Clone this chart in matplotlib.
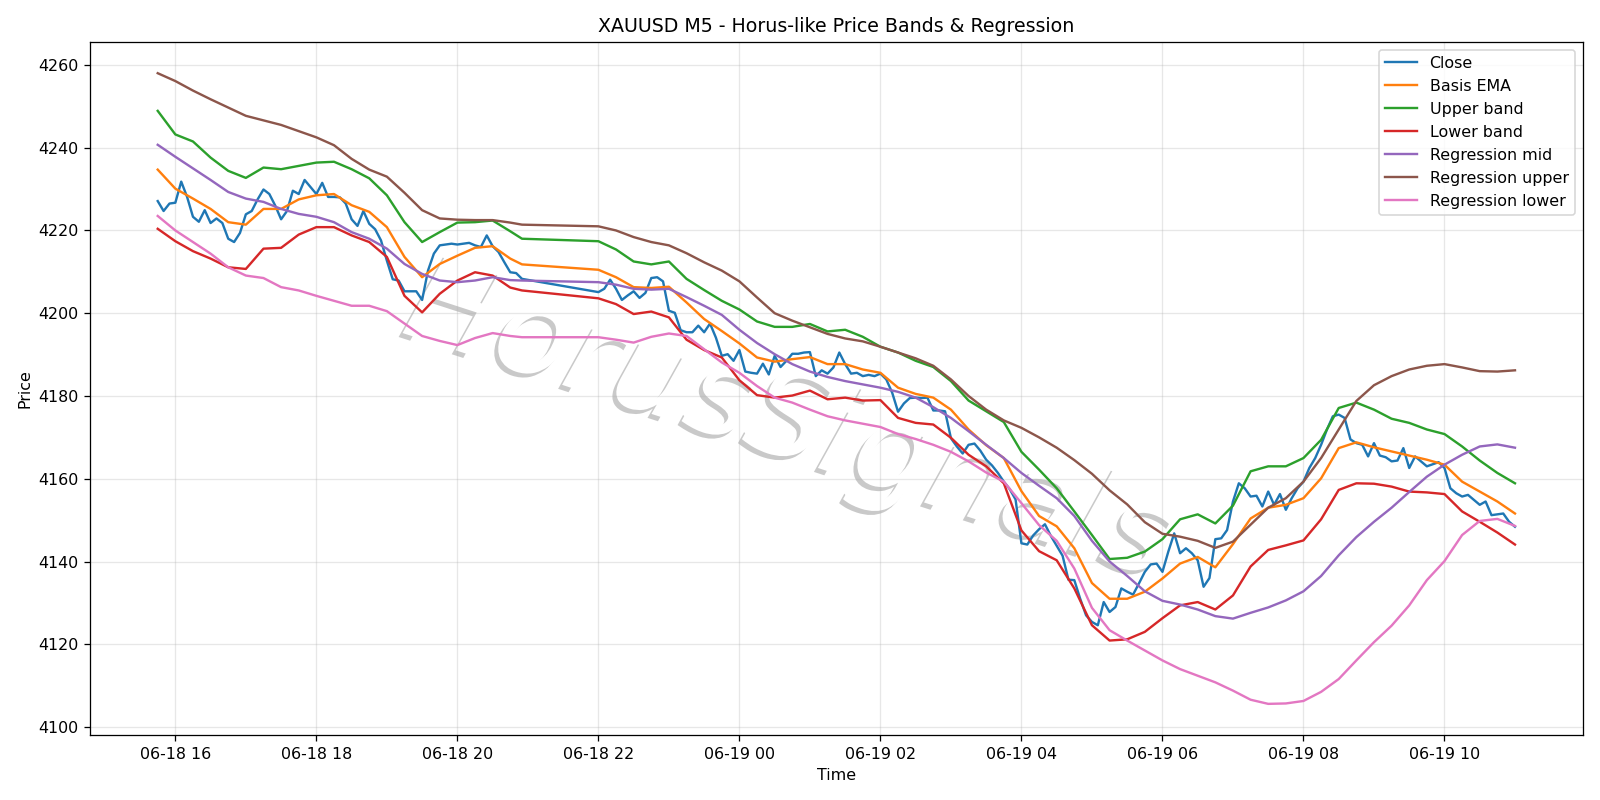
import pandas as pd
import matplotlib
matplotlib.use("Agg")
import matplotlib.pyplot as plt
import matplotlib.dates as mdates
import matplotlib.patheffects as pe

# M5 close prices (market break 20:55 -> 22:00)
close_pre = [
    4227.1, 4224.7, 4226.5, 4226.7, 4231.8, 4228.1, 4223.3, 4222.1, 4224.9, 4221.8,
    4222.9, 4221.8, 4218.0, 4217.2, 4219.4, 4223.9, 4224.7, 4227.5, 4229.9, 4228.8,
    4226.0, 4222.7, 4224.7, 4229.6, 4228.8, 4232.2, 4230.5, 4228.8, 4231.5, 4228.1,
    4228.1, 4228.0, 4226.5, 4222.7, 4221.1, 4224.7, 4221.6, 4220.3, 4217.6, 4212.7,
    4208.2, 4207.9, 4205.3, 4205.3, 4205.3, 4203.2, 4210.3, 4214.4, 4216.4, 4216.6,
    4216.8, 4216.6, 4216.8, 4217.0, 4216.4, 4216.0, 4218.8, 4216.2, 4214.8, 4212.3,
    4209.9, 4209.7, 4208.3,
]
close_post = [
    4205.1, 4205.9, 4208.1, 4205.9, 4203.2, 4204.3, 4205.3, 4203.7, 4204.9, 4208.5,
    4208.7, 4207.7, 4200.6, 4200.1, 4195.9, 4195.4, 4195.4, 4197.0, 4195.4, 4197.5,
    4194.1, 4189.7, 4190.1, 4188.5, 4191.1, 4185.9, 4185.6, 4185.4, 4187.8, 4185.2,
    4189.7, 4187.0, 4188.5, 4190.2, 4190.2, 4190.5, 4190.6, 4184.8, 4186.2, 4185.4,
    4186.9, 4190.5, 4187.7, 4185.4, 4185.6, 4184.8, 4185.1, 4184.8, 4185.4, 4184.0,
    4180.8, 4176.2, 4178.2, 4179.5, 4179.6, 4179.5, 4179.6, 4176.5, 4176.5, 4176.3,
    4169.8, 4167.8, 4166.1, 4168.2, 4168.5, 4166.8, 4164.6, 4163.2, 4161.4, 4159.3,
    4157.5, 4155.0, 4144.4, 4144.1, 4146.3, 4147.8, 4149.0, 4146.2, 4143.8, 4141.4,
    4135.6, 4135.5, 4131.0, 4127.0, 4125.4, 4124.6, 4130.2, 4127.8, 4129.0, 4133.5,
    4132.7, 4132.0, 4134.7, 4137.5, 4139.3, 4139.5, 4137.5, 4142.4, 4146.8, 4142.0,
    4143.2, 4142.0, 4140.3, 4133.9, 4136.0, 4145.4, 4145.6, 4147.6, 4154.5, 4158.9,
    4157.7, 4155.7, 4155.9, 4153.3, 4156.9, 4153.7, 4156.3, 4152.5, 4155.3, 4157.7,
    4159.3, 4162.6, 4165.0, 4168.2, 4171.9, 4175.1, 4175.5, 4174.7, 4169.5, 4168.6,
    4168.2, 4165.4, 4168.6, 4165.6, 4165.2, 4164.2, 4164.4, 4167.4, 4162.6, 4165.4,
    4164.2, 4163.0, 4163.5, 4164.0, 4162.6, 4157.7, 4156.5, 4155.7, 4156.1, 4154.9,
    4153.7, 4154.5, 4151.2, 4151.4, 4151.6, 4149.6, 4148.4,
]

# band / regression values, read every 15 minutes
ema_pre = [4234.7, 4230.1, 4227.7, 4225.2, 4222.0, 4221.4, 4225.2, 4225.2, 4227.5, 4228.5, 4228.8,
           4226.1, 4224.5, 4220.8, 4213.6, 4208.7, 4211.9, 4213.9, 4215.8, 4216.2, 4213.2, 4211.8]
ema_post = [4210.5, 4208.7, 4206.3, 4206.1, 4206.4, 4202.6, 4198.6, 4195.7, 4192.7, 4189.3,
            4188.3, 4188.9, 4189.4, 4187.7, 4187.7, 4186.4, 4185.6, 4182.0, 4180.5, 4179.6,
            4176.7, 4171.9, 4168.1, 4165.0, 4157.0, 4151.0, 4148.5, 4143.2, 4134.8, 4131.0,
            4131.0, 4132.7, 4135.9, 4139.5, 4141.1, 4138.6, 4144.2, 4150.4, 4153.0, 4153.7,
            4155.3, 4160.1, 4167.4, 4168.8, 4167.6, 4166.6, 4165.6, 4164.6, 4163.4, 4159.3,
            4156.9, 4154.5, 4151.6]

upper_pre = [4248.9, 4243.2, 4241.5, 4237.6, 4234.4, 4232.7, 4235.2, 4234.8, 4235.6, 4236.4, 4236.6,
             4234.8, 4232.6, 4228.5, 4222.0, 4217.2, 4219.6, 4221.9, 4222.0, 4222.4, 4219.8, 4218.0]
upper_post = [4217.4, 4215.4, 4212.5, 4211.8, 4212.5, 4208.3, 4205.6, 4203.0, 4200.9, 4198.0,
              4196.7, 4196.7, 4197.4, 4195.6, 4196.0, 4194.3, 4191.9, 4190.5, 4188.5, 4187.0,
              4183.6, 4178.9, 4176.3, 4173.7, 4166.5, 4162.2, 4157.7, 4152.1, 4146.4, 4140.6,
              4140.9, 4142.4, 4145.4, 4150.2, 4151.4, 4149.2, 4153.5, 4161.8, 4163.0, 4163.0,
              4165.0, 4169.4, 4177.1, 4178.4, 4176.7, 4174.5, 4173.5, 4171.9, 4170.8, 4167.8,
              4164.4, 4161.4, 4158.9]

lower_pre = [4220.4, 4217.4, 4215.0, 4213.2, 4211.1, 4210.7, 4215.6, 4215.8, 4219.0, 4220.8, 4220.8,
             4218.8, 4217.2, 4213.6, 4204.2, 4200.2, 4204.7, 4207.9, 4209.9, 4209.1, 4206.2, 4205.5]
lower_post = [4203.6, 4202.2, 4199.8, 4200.4, 4199.0, 4193.6, 4191.1, 4189.3, 4183.8, 4180.2,
              4179.6, 4180.1, 4181.3, 4179.2, 4179.6, 4178.9, 4179.0, 4174.7, 4173.5, 4173.1,
              4169.9, 4165.8, 4163.0, 4158.9, 4147.5, 4142.5, 4140.3, 4133.5, 4124.6, 4120.9,
              4121.2, 4123.0, 4126.3, 4129.4, 4130.2, 4128.4, 4131.8, 4138.8, 4142.8, 4143.9,
              4145.1, 4150.2, 4157.3, 4158.9, 4158.8, 4158.1, 4156.9, 4156.7, 4156.3, 4152.1,
              4149.6, 4147.0, 4144.1]

reg_mid_pre = [4240.7, 4237.8, 4235.0, 4232.2, 4229.3, 4227.7, 4226.9, 4225.2, 4224.0, 4223.3, 4222.0,
               4219.6, 4218.0, 4215.6, 4211.9, 4209.5, 4207.9, 4207.5, 4207.9, 4208.7, 4208.0, 4207.9]
reg_mid_post = [4207.5, 4206.9, 4205.9, 4205.7, 4205.9, 4203.9, 4201.8, 4199.6, 4196.0, 4192.8,
                4190.1, 4187.7, 4185.9, 4184.6, 4183.6, 4182.8, 4182.0, 4181.0, 4179.6, 4177.3,
                4174.7, 4171.5, 4168.2, 4165.0, 4161.4, 4158.3, 4155.3, 4151.0, 4145.0, 4140.0,
                4136.5, 4132.8, 4130.5, 4129.6, 4128.4, 4126.8, 4126.2, 4127.6, 4128.9, 4130.6,
                4132.8, 4136.5, 4141.5, 4145.9, 4149.6, 4153.0, 4156.8, 4160.5, 4163.4, 4165.8,
                4167.8, 4168.3, 4167.5]

reg_up_pre = [4258.0, 4256.1, 4253.8, 4251.7, 4249.7, 4247.7, 4246.6, 4245.5, 4244.0, 4242.5, 4240.6,
              4237.3, 4234.7, 4233.0, 4229.1, 4224.9, 4222.9, 4222.6, 4222.5, 4222.5, 4221.9, 4221.4]
reg_up_post = [4221.0, 4220.0, 4218.4, 4217.2, 4216.4, 4214.5, 4212.3, 4210.3, 4207.7, 4203.8,
               4200.0, 4198.2, 4196.6, 4195.0, 4193.9, 4193.2, 4191.9, 4190.5, 4189.1, 4187.3,
               4184.0, 4180.0, 4176.7, 4174.1, 4172.3, 4170.0, 4167.5, 4164.5, 4161.2, 4157.2,
               4153.8, 4149.5, 4146.7, 4146.0, 4145.0, 4143.3, 4144.8, 4148.9, 4153.0, 4155.3,
               4159.3, 4165.0, 4171.9, 4178.8, 4182.6, 4184.8, 4186.4, 4187.3, 4187.7, 4186.9,
               4186.0, 4185.9, 4186.2]

reg_low_pre = [4223.5, 4220.0, 4217.2, 4214.4, 4211.1, 4209.1, 4208.5, 4206.3, 4205.5, 4204.2, 4203.0,
               4201.8, 4201.8, 4200.5, 4197.5, 4194.5, 4193.3, 4192.3, 4194.0, 4195.2, 4194.5, 4194.2]
reg_low_post = [4194.2, 4193.6, 4192.9, 4194.3, 4195.1, 4194.5, 4191.3, 4188.1, 4185.6, 4182.4,
                4179.6, 4178.4, 4176.7, 4175.1, 4174.1, 4173.3, 4172.5, 4170.8, 4169.6, 4168.2,
                4166.5, 4164.2, 4161.5, 4159.3, 4154.1, 4148.8, 4145.0, 4138.3, 4128.8, 4123.4,
                4120.9, 4118.5, 4116.1, 4114.0, 4112.4, 4110.8, 4108.8, 4106.6, 4105.6, 4105.7,
                4106.3, 4108.5, 4111.6, 4116.1, 4120.5, 4124.5, 4129.4, 4135.5, 4140.1, 4146.4,
                4149.8, 4150.3, 4148.6]

# timestamps
close_time = (pd.date_range("2025-06-18 15:45", "2025-06-18 20:55", freq="5min")
              .append(pd.date_range("2025-06-18 22:00", "2025-06-19 11:00", freq="5min")))
band_time = (pd.date_range("2025-06-18 15:45", "2025-06-18 20:45", freq="15min")
             .append(pd.DatetimeIndex(["2025-06-18 20:55"]))
             .append(pd.date_range("2025-06-18 22:00", "2025-06-19 11:00", freq="15min")))

close = close_pre + close_post
series = [
    ("Basis EMA", ema_pre + ema_post),
    ("Upper band", upper_pre + upper_post),
    ("Lower band", lower_pre + lower_post),
    ("Regression mid", reg_mid_pre + reg_mid_post),
    ("Regression upper", reg_up_pre + reg_up_post),
    ("Regression lower", reg_low_pre + reg_low_post),
]

fig, ax = plt.subplots(figsize=(14, 7), dpi=1600 / 14)

ax.plot(close_time, close, label="Close")
for name, vals in series:
    ax.plot(band_time, vals, label=name)

# watermark
ax.text(0.468, 0.45, "HorusSignals", transform=ax.transAxes, fontsize=77,
        style="italic", color="white", rotation=-18, ha="center", va="center", zorder=1,
        path_effects=[pe.withSimplePatchShadow(offset=(-2.5, -2.5), shadow_rgbFace="gray", alpha=0.42)])

ax.set_title("XAUUSD M5 - Horus-like Price Bands & Regression")
ax.set_xlabel("Time")
ax.set_ylabel("Price")
ax.xaxis.set_major_locator(mdates.HourLocator(byhour=range(0, 24, 2)))
ax.xaxis.set_major_formatter(mdates.DateFormatter("%m-%d %H"))
ax.grid(True, alpha=0.3)
ax.legend(loc="upper right")

plt.tight_layout()
plt.savefig("out.png", dpi=1600 / 14)
